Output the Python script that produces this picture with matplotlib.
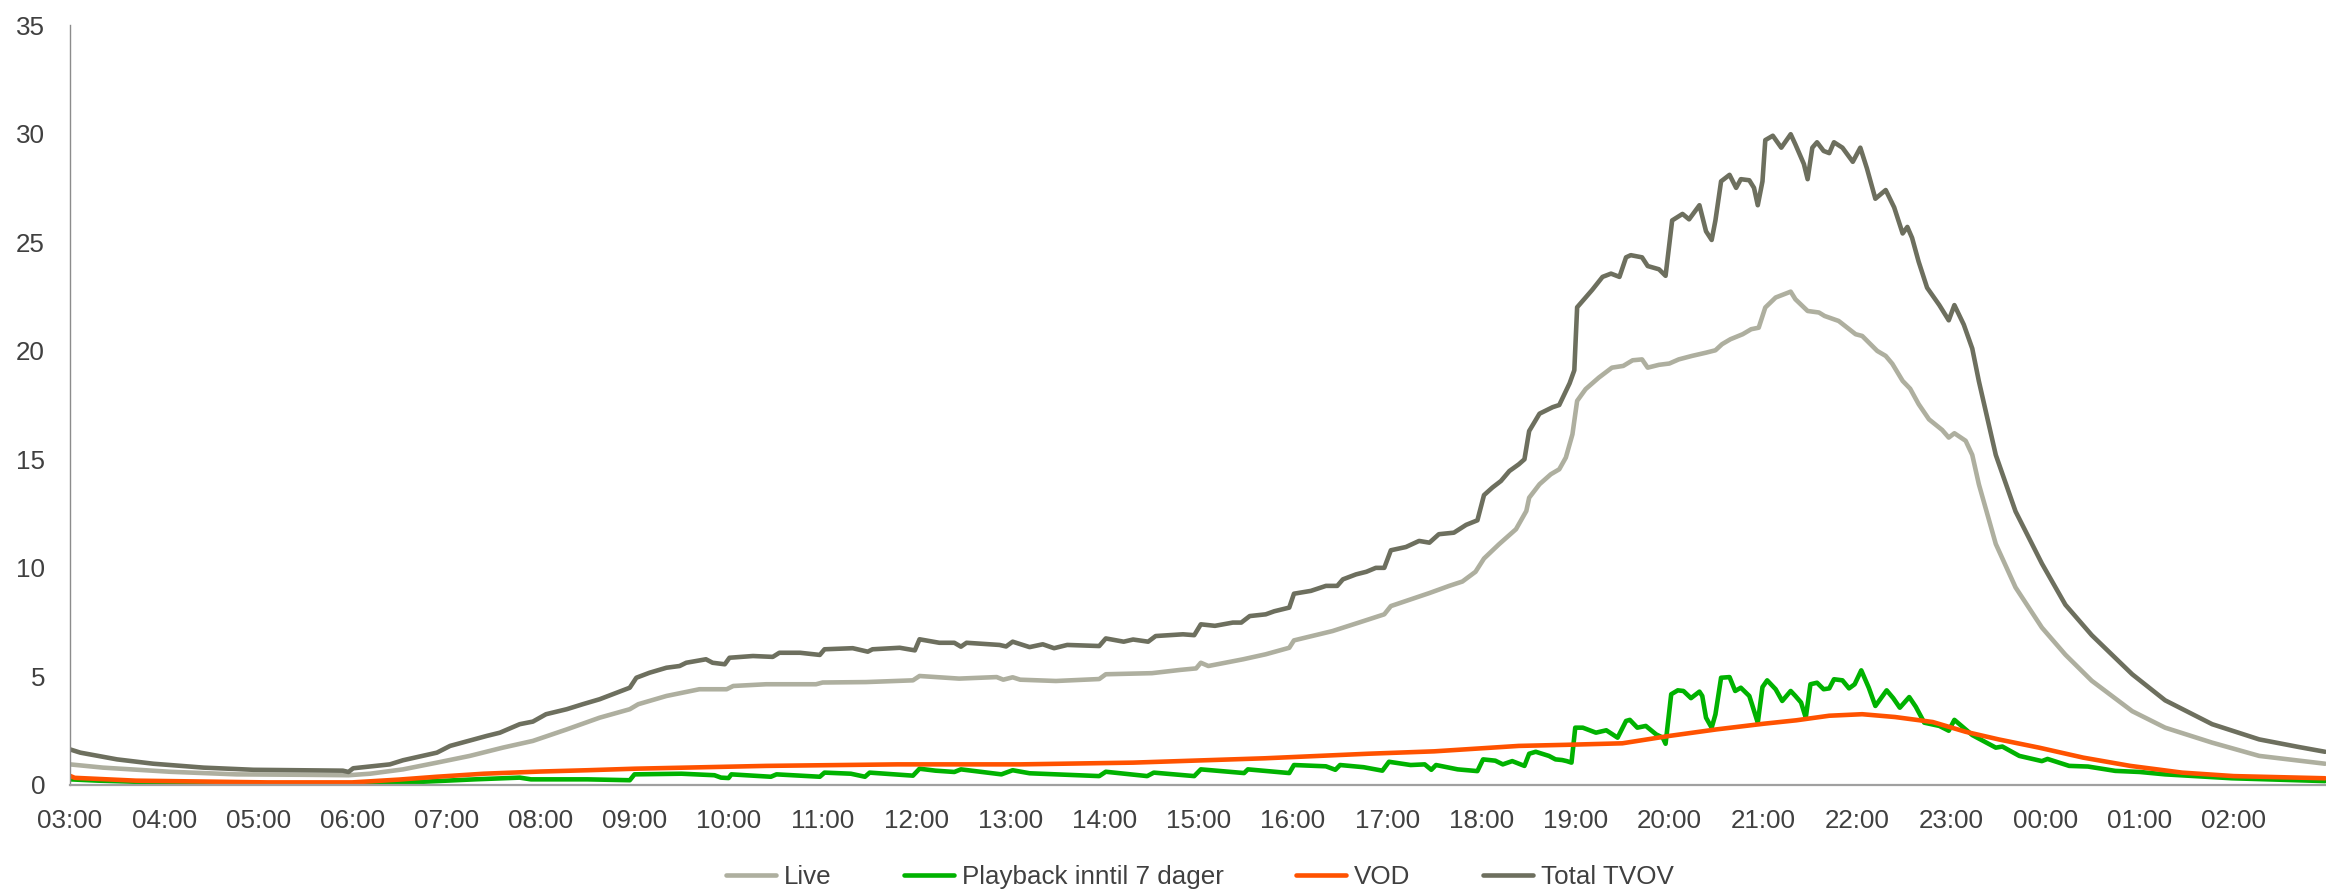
import matplotlib
matplotlib.use("Agg")
import matplotlib.pyplot as plt

plt.rcParams['font.family'] = ['Liberation Sans', 'DejaVu Sans']

# x positions are hours after 03:00
hour_labels = ["03:00", "04:00", "05:00", "06:00", "07:00", "08:00", "09:00", "10:00",
               "11:00", "12:00", "13:00", "14:00", "15:00", "16:00", "17:00", "18:00",
               "19:00", "20:00", "21:00", "22:00", "23:00", "00:00", "01:00", "02:00"]

live_t = [0, 0.35, 1.06, 1.77, 2.48, 2.96, 3.19, 3.54, 3.90, 4.25, 4.60, 4.92, 5.28, 5.63,
          5.95, 6.04, 6.34, 6.69, 6.98, 7.05, 7.40, 7.93, 8.0, 8.46, 8.96, 9.03, 9.45, 9.85,
          9.92, 10.02, 10.1, 10.48, 10.94, 11.01, 11.5, 11.8, 11.97, 12.02, 12.1, 12.47,
          12.71, 12.96, 13.01, 13.42, 13.70, 13.97, 14.04, 14.45, 14.66, 14.80, 14.94,
          15.03, 15.19, 15.37, 15.48, 15.51, 15.62, 15.74, 15.83, 15.90, 15.97, 16.02,
          16.11, 16.25, 16.39, 16.51, 16.61, 16.71, 16.77, 16.89, 17.0, 17.1, 17.24, 17.39,
          17.49, 17.56, 17.65, 17.78, 17.87, 17.95, 18.02, 18.13, 18.29, 18.34, 18.47,
          18.59, 18.65, 18.80, 18.98, 19.05, 19.21, 19.30, 19.37, 19.48, 19.56, 19.65,
          19.76, 19.90, 19.97, 20.03, 20.15, 20.22, 20.29, 20.47, 20.68, 20.96, 21.21,
          21.49, 21.92, 22.27, 22.77, 23.27, 23.97]
live_v = [0.95, 0.8, 0.61, 0.49, 0.47, 0.45, 0.52, 0.72, 1.03, 1.34, 1.72, 2.03, 2.56, 3.1,
          3.49, 3.72, 4.1, 4.41, 4.41, 4.56, 4.64, 4.64, 4.72, 4.74, 4.82, 5.02, 4.9, 4.97,
          4.85, 4.96, 4.85, 4.79, 4.88, 5.1, 5.15, 5.3, 5.37, 5.63, 5.48, 5.79,
          6.02, 6.32, 6.66, 7.09, 7.48, 7.86, 8.24, 8.84, 9.17, 9.37, 9.82,
          10.43, 11.09, 11.78, 12.62, 13.23, 13.85, 14.31, 14.54, 15.08, 16.15, 17.69,
          18.23, 18.76, 19.22, 19.3, 19.56, 19.6, 19.22, 19.35, 19.41, 19.6, 19.76, 19.91,
          20.02, 20.3, 20.53, 20.76, 20.99, 21.06, 21.99, 22.45, 22.72, 22.37, 21.83,
          21.76, 21.6, 21.37, 20.76, 20.68, 19.99, 19.76, 19.4, 18.61, 18.25, 17.54,
          16.84, 16.35, 16.0, 16.2, 15.85, 15.2, 13.85, 11.1, 9.1, 7.25, 6.0,
          4.8, 3.4, 2.64, 1.95, 1.34, 0.98]

play_t = [0, 0.3, 1.4, 2.97, 3.3, 3.9, 4.3, 4.78, 4.9, 5.5, 5.95, 6.0, 6.5, 6.85, 6.92, 7.0,
          7.03, 7.45, 7.51, 7.97, 8.02, 8.3, 8.45, 8.5, 8.96, 9.03, 9.2, 9.4, 9.47, 9.85,
          9.9, 10.02, 10.2, 10.94, 11.01, 11.45, 11.52, 11.95, 12.02, 12.35, 12.48, 12.52,
          12.96, 13.01, 13.35, 13.45, 13.5, 13.75, 13.95, 14.02, 14.25, 14.4, 14.47, 14.52,
          14.75, 14.96, 15.02, 15.15, 15.23, 15.33, 15.46, 15.51, 15.58, 15.72, 15.79,
          15.86, 15.91, 15.96, 16.0, 16.08, 16.22, 16.33, 16.45, 16.54, 16.58, 16.66, 16.75,
          16.86, 16.93, 16.96, 17.02, 17.09, 17.15, 17.23, 17.32, 17.35, 17.39, 17.45,
          17.49, 17.55, 17.64, 17.70, 17.76, 17.85, 17.88, 17.94, 17.99, 18.04, 18.13,
          18.20, 18.29, 18.34, 18.40, 18.45, 18.50, 18.57, 18.64, 18.70, 18.75, 18.84,
          18.91, 18.97, 19.04, 19.12, 19.19, 19.31, 19.38, 19.45, 19.55, 19.62, 19.71,
          19.87, 19.97, 20.03, 20.22, 20.47, 20.54, 20.72, 20.96, 21.02, 21.25, 21.45,
          21.74, 22.0, 22.27, 22.98, 23.97]
play_v = [0.26, 0.2, 0.06, 0.03, 0.06, 0.18, 0.26, 0.34, 0.26, 0.26, 0.22, 0.49, 0.52, 0.45,
          0.34, 0.32, 0.49, 0.38, 0.49, 0.38, 0.57, 0.52, 0.38, 0.57, 0.43, 0.75, 0.66, 0.6,
          0.72, 0.52, 0.49, 0.68, 0.54, 0.41, 0.61, 0.41, 0.57, 0.41, 0.72, 0.6, 0.55, 0.72,
          0.55, 0.92, 0.86, 0.7, 0.92, 0.82, 0.66, 1.07, 0.92, 0.95, 0.7, 0.92,
          0.72, 0.64, 1.18, 1.12, 0.95, 1.1, 0.88, 1.44, 1.53, 1.34, 1.18,
          1.15, 1.1, 1.03, 2.64, 2.64, 2.41, 2.52, 2.18, 2.95, 3.0, 2.64, 2.72,
          2.33, 2.18, 1.9, 4.18, 4.36, 4.33, 4.0, 4.3, 4.1, 3.1, 2.64,
          3.25, 4.94, 4.97, 4.33, 4.48, 4.1, 3.7, 2.87, 4.51, 4.82, 4.41,
          3.87, 4.33, 4.1, 3.8, 3.1, 4.64, 4.71, 4.41, 4.45, 4.87, 4.82,
          4.45, 4.64, 5.28, 4.48, 3.64, 4.36, 4.0, 3.56, 4.05, 3.6, 2.87,
          2.72, 2.5, 3.0, 2.3, 1.72, 1.77, 1.34, 1.1, 1.2, 0.88, 0.85,
          0.65, 0.6, 0.49, 0.31, 0.18]

vod_t = [0, 0.05, 0.7, 2.1, 3.0, 3.5, 3.9, 4.4, 5.0, 5.5, 6.0, 7.4, 8.8, 10.1, 11.3, 12.7,
         13.8, 14.5, 15.4, 15.9, 16.5, 17.0, 17.5, 18.0, 18.35, 18.7, 19.05, 19.4, 19.8,
         20.15, 20.5, 20.93, 21.4, 21.9, 22.45, 23.0, 23.97]
vod_v = [0.42, 0.33, 0.2, 0.12, 0.12, 0.25, 0.38, 0.52, 0.62, 0.68, 0.75, 0.88, 0.95, 0.95,
         1.03, 1.23, 1.44, 1.55, 1.8, 1.85, 1.92, 2.26, 2.56, 2.82, 2.98, 3.19, 3.26, 3.13,
         2.9, 2.45, 2.1, 1.72, 1.26, 0.88, 0.57, 0.41, 0.31]

total_t = [0, 0.11, 0.25, 0.50, 0.885, 1.42, 1.95, 2.48, 2.90, 2.96, 3.01, 3.40, 3.54, 3.90,
           4.04, 4.43, 4.57, 4.78, 4.92, 5.06, 5.28, 5.45, 5.63, 5.81, 5.95, 6.02, 6.16,
           6.34, 6.48, 6.55, 6.76, 6.83, 6.96, 7.01, 7.26, 7.47, 7.54, 7.76, 7.97, 8.02,
           8.32, 8.48, 8.53, 8.82, 8.98, 9.03, 9.24, 9.40, 9.47, 9.53, 9.88, 9.95, 10.02,
           10.2, 10.34, 10.46, 10.6, 10.94, 11.01, 11.2, 11.3, 11.46, 11.54, 11.83, 11.95,
           12.02, 12.17, 12.36, 12.45, 12.54, 12.71, 12.8, 12.96, 13.01, 13.19, 13.35,
           13.47, 13.53, 13.67, 13.78, 13.88, 13.97, 14.04, 14.20, 14.34, 14.45, 14.55,
           14.71, 14.84, 14.96, 15.03, 15.12, 15.21, 15.30, 15.40, 15.46, 15.51, 15.62,
           15.76, 15.83, 15.94, 15.99, 16.02, 16.18, 16.29, 16.38, 16.47, 16.54, 16.59,
           16.71, 16.77, 16.89, 16.96, 17.03, 17.14, 17.21, 17.32, 17.39, 17.45, 17.49,
           17.55, 17.64, 17.71, 17.76, 17.85, 17.90, 17.94, 17.99, 18.02, 18.10, 18.19,
           18.29, 18.34, 18.40, 18.43, 18.47, 18.52, 18.57, 18.64, 18.70, 18.75, 18.84,
           18.95, 19.03, 19.10, 19.19, 19.30, 19.39, 19.48, 19.53, 19.58, 19.65, 19.74,
           19.87, 19.97, 20.03, 20.13, 20.22, 20.29, 20.47, 20.68, 20.96, 21.21, 21.49,
           21.92, 22.27, 22.77, 23.27, 23.69, 23.97]
total_v = [1.64, 1.49, 1.38, 1.18, 0.98, 0.8, 0.7, 0.68, 0.66, 0.6, 0.77, 0.95, 1.14, 1.49,
           1.8, 2.26, 2.41, 2.8, 2.92, 3.26, 3.49, 3.72, 3.95, 4.25, 4.48, 4.94, 5.17,
           5.4, 5.48, 5.63, 5.79, 5.63, 5.56, 5.86, 5.94, 5.9, 6.09, 6.09, 5.99, 6.25,
           6.3, 6.14, 6.25, 6.32, 6.2, 6.71, 6.55, 6.55, 6.37, 6.55, 6.45, 6.38, 6.6,
           6.35, 6.48, 6.3, 6.45, 6.4, 6.75, 6.6, 6.7, 6.6, 6.86, 6.94, 6.9,
           7.4, 7.33, 7.48, 7.48, 7.78, 7.86, 8.0, 8.17, 8.81, 8.94, 9.17,
           9.17, 9.47, 9.7, 9.82, 10.0, 10.0, 10.81, 10.96, 11.24, 11.16, 11.55,
           11.62, 11.98, 12.19, 13.35, 13.7, 14.0, 14.46, 14.77, 15.0, 16.3, 17.1,
           17.4, 17.5, 18.5, 19.1, 22.0, 22.8, 23.4, 23.55, 23.4, 24.3, 24.4,
           24.3, 23.9, 23.75, 23.45, 26.0, 26.3, 26.05, 26.7, 25.5, 25.1, 26.0,
           27.8, 28.1, 27.5, 27.9, 27.85, 27.5, 26.7, 27.8, 29.7, 29.9, 29.35,
           29.97, 29.5, 28.9, 28.6, 27.9, 29.35, 29.6, 29.2, 29.1, 29.6, 29.35,
           28.7, 29.35, 28.4, 27.0, 27.4, 26.6, 25.4, 25.7, 25.2, 24.1, 22.9,
           22.1, 21.4, 22.1, 21.2, 20.1, 18.6, 15.2, 12.6, 10.2, 8.3, 6.9,
           5.1, 3.9, 2.8, 2.1, 1.75, 1.53]

series_names = ["Live", "Playback inntil 7 dager", "VOD", "Total TVOV"]
series_colors = ["#AEAF9F", "#00B200", "#FF5200", "#6D6F5E"]

fig = plt.figure(figsize=(23.26, 8.90), dpi=100)
ax = fig.add_axes([70 / 2326, 105 / 890, 1 - 70 / 2326, (785 - 25) / 890])

data = [(live_t, live_v), (play_t, play_v), (vod_t, vod_v), (total_t, total_v)]
for (t, v), name, col in zip(data, series_names, series_colors):
    ax.plot(t, v, color=col, lw=3.3, label=name, solid_joinstyle='round',
            solid_capstyle='round')

ax.set_xlim(0, 23.98)
ax.set_ylim(0, 35)
ax.set_xticks(range(len(hour_labels)))
ax.set_xticklabels(hour_labels)
ax.set_yticks(range(0, 36, 5))

text_col = "#404040"
ax.tick_params(axis='x', length=0, pad=17, labelsize=18.7, labelcolor=text_col)
ax.tick_params(axis='y', length=0, pad=18, labelsize=18.7, labelcolor=text_col)

for s in ["top", "right"]:
    ax.spines[s].set_visible(False)
ax.spines["left"].set_color("#8C8C8C")
ax.spines["left"].set_linewidth(1.0)
ax.spines["bottom"].set_color("#A0A0A0")
ax.spines["bottom"].set_linewidth(1.6)

fig.legend(loc="center", bbox_to_anchor=(1200 / 2326, 13 / 890), ncol=4,
           frameon=False, fontsize=18.7, handlelength=1.92, handletextpad=0.3,
           columnspacing=2.8, labelcolor=text_col, borderpad=0)

fig.savefig("out.png", dpi=100)
